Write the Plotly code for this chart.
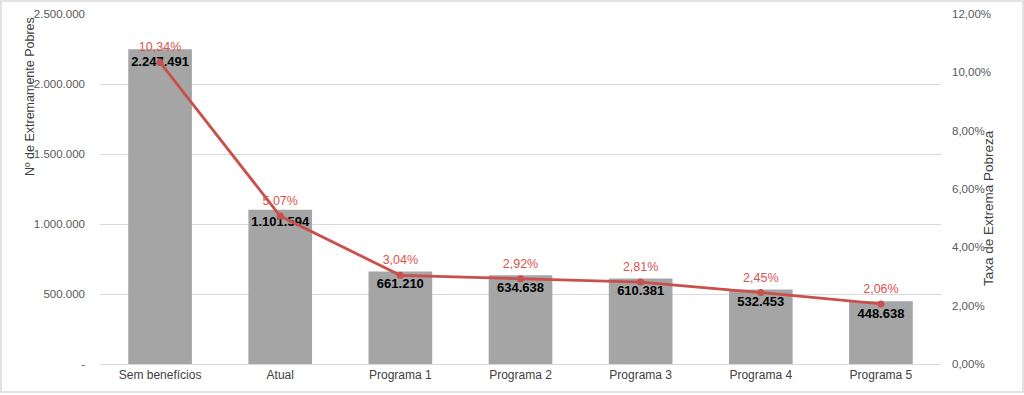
import plotly.graph_objects as go

categories = ["Sem benefícios", "Atual", "Programa 1", "Programa 2", "Programa 3", "Programa 4", "Programa 5"]
pobres = [2247491, 1101594, 661210, 634638, 610381, 532453, 448638]
taxa = [10.34, 5.07, 3.04, 2.92, 2.81, 2.45, 2.06]

left_ticks = [0, 500000, 1000000, 1500000, 2000000, 2500000]
left_ticktext = ["-", "500.000", "1.000.000", "1.500.000", "2.000.000", "2.500.000"]

FONT = "Liberation Sans, Arial, sans-serif"

fig = go.Figure()
fig.add_trace(go.Bar(
    x=categories, y=pobres, marker=dict(color="#a5a5a5", line=dict(width=0)),
    width=0.53, showlegend=False))
fig.add_trace(go.Scatter(
    x=categories, y=pobres, mode="markers+text",
    marker=dict(size=9, opacity=0),
    texttemplate="%{y:,.0f}", textposition="bottom center",
    textfont=dict(family=FONT, size=13, color="#000000", weight="bold"),
    cliponaxis=False, showlegend=False, hoverinfo="skip"))
fig.add_trace(go.Scatter(
    x=categories, y=taxa, yaxis="y2", mode="lines+markers",
    line=dict(color="#c9504d", width=2.8), marker=dict(color="#c9504d", size=7),
    showlegend=False))
fig.add_trace(go.Scatter(
    x=categories, y=taxa, yaxis="y2", mode="markers+text",
    marker=dict(size=11, opacity=0),
    texttemplate="%{y:.2f}%", textposition="top center",
    textfont=dict(family=FONT, size=12.5, color="#d9534f"),
    cliponaxis=False, showlegend=False, hoverinfo="skip"))

fig.update_layout(
    width=1024, height=395, separators=",.",
    margin=dict(l=100, r=83, t=14, b=31, autoexpand=False),
    paper_bgcolor="white", plot_bgcolor="white",
    font=dict(family=FONT, size=11, color="#595959"),
    xaxis=dict(showgrid=False, showline=True, linecolor="#d9d9d9", ticks="",
               automargin=False, tickfont=dict(size=12, color="#404040")),
    yaxis=dict(range=[0, 2500000], tickvals=left_ticks, ticktext=left_ticktext,
               showgrid=True, gridcolor="#d9d9d9", zeroline=False, ticks="",
               automargin=False, ticklabelstandoff=14,
               tickfont=dict(size=11.5, color="#595959")),
    yaxis2=dict(range=[0, 12], overlaying="y", side="right", dtick=2, ticksuffix="%",
                tickformat=".2f", showgrid=False, zeroline=False, ticks="",
                automargin=False, ticklabelstandoff=10,
                tickfont=dict(size=11.5, color="#595959")),
    annotations=[
        dict(text="Nº de Extremamente Pobres", xref="paper", yref="paper",
             x=-70/841, y=(364-97)/350, textangle=-90, showarrow=False,
             xanchor="center", yanchor="middle", font=dict(size=12.5, color="#404040")),
        dict(text="Taxa de Extrema Pobreza", xref="paper", yref="paper",
             x=1+47/841, y=(364-208)/350, textangle=-90, showarrow=False,
             xanchor="center", yanchor="middle", font=dict(size=13.5, color="#404040")),
    ],
)
fig.add_shape(type="rect", xref="paper", yref="paper",
              x0=-99/841, x1=1+82/841, y0=-28/350, y1=1+13/350,
              line=dict(color="#d9d9d9", width=1.5), fillcolor="rgba(0,0,0,0)", layer="below")

fig.write_html("out.html", config={"displayModeBar": False},
               post_script="document.body.style.margin='0';")
